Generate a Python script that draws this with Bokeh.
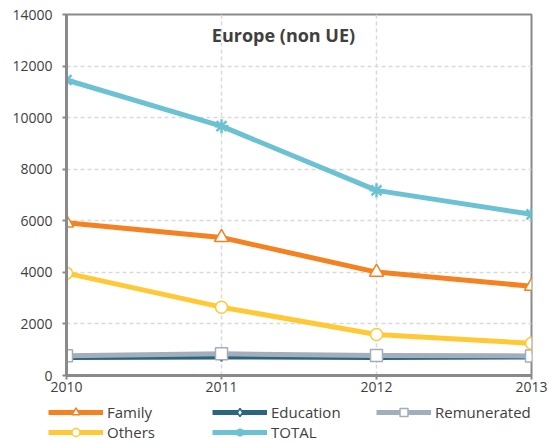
from bokeh.plotting import figure
from bokeh.models import Range1d, FixedTicker, Legend, LegendItem, Label
from bokeh.layouts import column
from bokeh.embed import file_html
from bokeh.resources import INLINE

years = [2010, 2011, 2012, 2013]
family = [5920, 5350, 4010, 3460]
education = [700, 720, 700, 720]
remunerated = [770, 840, 780, 760]
others = [3970, 2650, 1590, 1250]
total = [11460, 9670, 7180, 6250]
y_ticks = [0, 2000, 4000, 6000, 8000, 10000, 12000, 14000]
title_text = "Europe (non UE)"

FONT = "Open Sans"
TXT = "#404040"
AX = "#8a8a8a"

p = figure(width=549, height=402, output_backend="svg", toolbar_location=None,
           x_range=Range1d(years[0], years[-1]), y_range=Range1d(y_ticks[0], y_ticks[-1]),
           min_border_left=66, min_border_right=18, min_border_top=14, min_border_bottom=27)
p.background_fill_color = "white"
p.border_fill_color = "white"
p.outline_line_color = AX
p.outline_line_width = 2

p.xaxis.ticker = FixedTicker(ticks=years)
p.yaxis.ticker = FixedTicker(ticks=y_ticks)
for ax in (p.xaxis, p.yaxis):
    ax.axis_line_color = AX
    ax.axis_line_width = 3
    ax.major_tick_line_color = AX
    ax.major_tick_line_width = 2
    ax.major_tick_out = 4
    ax.major_tick_in = 0
    ax.minor_tick_line_color = None
    ax.major_label_text_font = FONT
    ax.major_label_text_font_size = "14px"
    ax.major_label_text_color = TXT
p.yaxis.major_label_standoff = 10
p.xaxis.major_label_standoff = 2

for g in (p.xgrid, p.ygrid):
    g.grid_line_color = "#d9d9d9"
    g.grid_line_dash = "4 3"
    g.grid_line_width = 1.5
p.xgrid.ticker = FixedTicker(ticks=years)
p.ygrid.ticker = FixedTicker(ticks=y_ticks)

series = [
    ("Family", family, "#F58220", "triangle", 14, "white"),
    ("Education", education, "#2B6580", "diamond", 9, "white"),
    ("Remunerated", remunerated, "#A3AEBC", "square", 12, "white"),
    ("Others", others, "#FFC936", "circle", 12, "white"),
    ("TOTAL", total, "#6CC2D2", "asterisk", 14, None),
]

# legend panel: a second figure whose frame shows no data
pl = figure(width=549, height=41, output_backend="svg", toolbar_location=None,
            x_range=Range1d(years[0], years[-1]), y_range=Range1d(-2, -1),
            x_axis_location=None, y_axis_location=None,
            min_border_left=0, min_border_right=0, min_border_top=0, min_border_bottom=0)
pl.frame_align = False
pl.outline_line_color = None
pl.xgrid.visible = False
pl.ygrid.visible = False
pl.border_fill_color = "white"
pl.background_fill_color = "white"

items = []
for name, vals, col, mk, sz, fill in series:
    kw = dict(marker=mk, size=sz, line_color=col, line_width=1.5 if fill else 2.5,
              fill_color=fill if fill else col)
    p.line(years, vals, line_color=col, line_width=5, line_join="round")
    p.scatter(years, vals, **kw)
    l2 = pl.line(years, vals, line_color=col, line_width=5)
    s2 = pl.scatter(years, vals, **dict(kw, size=min(sz, 11)))
    items.append(LegendItem(label=name, renderers=[l2, s2]))

legend = Legend(items=items, ncols=3, orientation="horizontal", location=(48, 1),
                glyph_width=55, glyph_height=20, label_height=20, label_width=105,
                label_standoff=4, spacing=0, padding=0, margin=0,
                border_line_color=None, background_fill_alpha=0,
                label_text_font=FONT, label_text_font_size="15px", label_text_color=TXT)
pl.add_layout(legend, "center")

p.add_layout(Label(x=2011.40, y=13200, text=title_text, text_align="center", text_baseline="middle",
                   text_font=FONT, text_font_size="18px", text_font_style="bold", text_color=TXT))

layout = column(p, pl, spacing=0)
open("out.html", "w").write(file_html(layout, INLINE))
